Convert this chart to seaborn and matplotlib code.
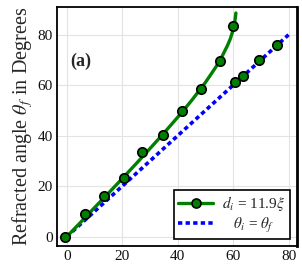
import matplotlib
matplotlib.use("Agg")
import matplotlib.pyplot as plt
from matplotlib.lines import Line2D
import seaborn as sns
import pandas as pd

# measured points
theta_i_pts = [-0.5, 6.4, 13.3, 20.6, 27.0, 34.7, 41.4, 48.5, 55.2, 60.1, 60.7, 63.4, 69.5, 75.7]
theta_f_pts = [0.0, 8.9, 16.1, 23.4, 33.5, 40.3, 49.9, 58.5, 69.6, 83.5, 61.2, 63.5, 69.8, 75.8]

# fitted curve
theta_i_curve = [0, 5, 10, 15, 20, 25, 30, 35, 40, 45, 50, 52, 54, 56, 58, 59, 60, 60.5, 61]
theta_f_curve = [0, 5.7, 11.5, 17.2, 23.0, 28.9, 34.9, 41.0, 47.3, 53.9, 61.1, 64.3, 67.6,
                 71.4, 75.8, 78.4, 81.9, 84.2, 88.6]

# identity line
diag_x = [0, 80]
diag_y = [0, 80]

x_ticks = [0, 20, 40, 60, 80]
y_ticks = [0, 20, 40, 60, 80]

label_fit = r"$d_i$ = 11.9$\xi$"
label_diag = r"   $\theta_i$ = $\theta_f$"

sns.set_theme(style="whitegrid")
plt.rcParams["font.family"] = ["Liberation Serif", "DejaVu Serif"]
plt.rcParams["mathtext.fontset"] = "stix"

green = "#008000"
blue = "#0000ff"

fig = plt.figure(figsize=(3.02, 2.68), dpi=100)
ax = fig.add_axes([0.189, 0.082, 0.794, 0.892])

df_curve = pd.DataFrame({"x": theta_i_curve, "y": theta_f_curve})
df_pts = pd.DataFrame({"x": theta_i_pts, "y": theta_f_pts})
df_diag = pd.DataFrame({"x": diag_x, "y": diag_y})

sns.lineplot(data=df_diag, x="x", y="y", ax=ax, color=blue, lw=2.6,
             dashes=False, zorder=2, sort=False)
ax.lines[-1].set_dashes((1.2, 0.9))
sns.lineplot(data=df_curve, x="x", y="y", ax=ax, color=green, lw=2.4, zorder=3, sort=False)
sns.scatterplot(data=df_pts, x="x", y="y", ax=ax, color=green, edgecolor="black",
                linewidth=1.2, s=46, zorder=4)

ax.set_xlim(-3.5, 83)
ax.set_ylim(-3.7, 91)
ax.set_xticks(x_ticks)
ax.set_yticks(y_ticks)
ax.tick_params(labelsize=11, length=0, pad=3, colors="#111111")
ax.set_xlabel("")
ax.set_ylabel(r"Refracted angle $\theta_f$ in Degrees", fontsize=14.5, labelpad=2)
ax.grid(True, color="#e3e3e3", lw=0.8)
for s in ax.spines.values():
    s.set_visible(True)
    s.set_color("black")
    s.set_linewidth(1.3)
ax.spines["right"].set_linewidth(2.0)

ax.text(1.4, 69.4, "(a)", fontsize=13, fontweight="bold", va="center", ha="left")

handles = [
    Line2D([], [], color=green, lw=2.4, marker="o", markerfacecolor=green,
           markeredgecolor="black", markeredgewidth=1.2, markersize=6.5),
    Line2D([], [], color=blue, lw=2.6, dashes=(1.2, 0.9)),
]
leg = ax.legend(handles, [label_fit, label_diag], loc="lower right", fontsize=11,
                frameon=True, fancybox=False, framealpha=1, edgecolor="black",
                handlelength=2.3, borderpad=0.3, labelspacing=0.15,
                borderaxespad=0.45, handletextpad=0.6)
leg.get_frame().set_linewidth(1.2)

fig.savefig("out.png", dpi=100)
